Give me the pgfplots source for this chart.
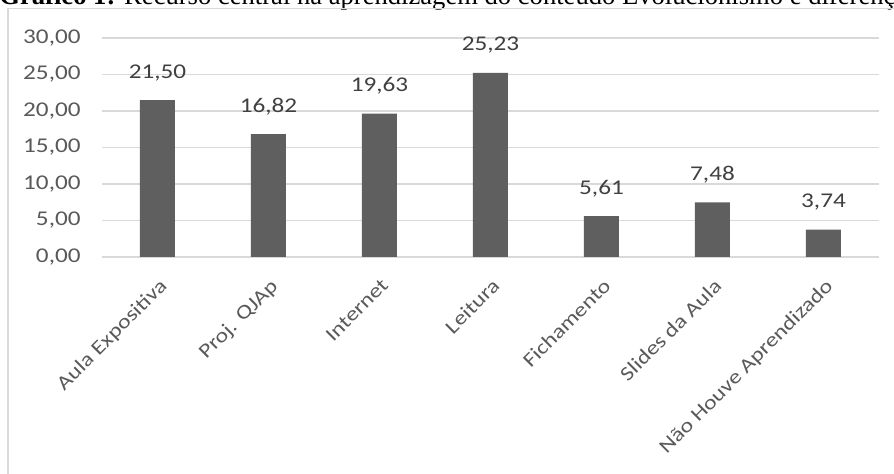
\documentclass[border=0pt]{standalone}
\usepackage{pgfplots}
\pgfplotsset{compat=1.18}
\usepackage{fontspec}
\setmainfont[FakeStretch=1.2]{Carlito}
\newfontfamily\titlefont{Liberation Serif}
\definecolor{barc}{HTML}{5F5F5F}
\definecolor{gridc}{HTML}{D9D9D9}
\definecolor{tickc}{HTML}{595959}
\definecolor{labc}{HTML}{404040}
\begin{document}
\begin{tikzpicture}
\begin{scope}
\clip (0,0) rectangle (447pt,237pt);
\node[anchor=base west, inner sep=0pt, font=\titlefont\fontsize{13.3}{15}\selectfont] at (-0.5pt,234.8pt) {\textbf{Gráfico 1:} Recurso central na aprendizagem do conteúdo Evolucionismo e diferenças};
\draw[gridc, line width=0.6pt] (4pt,-5pt) -- (4pt,232.8pt) -- (460pt,232.8pt);
\begin{axis}[
  at={(51pt,108.5pt)}, anchor=south west,
  scale only axis, width=388.5pt, height=109.5pt,
  xmin=-0.5, xmax=6.5, ymin=0, ymax=30,
  axis line style={draw=none},
  ytick={0,5,...,30},
  ymajorgrids, grid style={gridc, line width=0.6pt},
  xtick={0,...,6},
  xticklabels={Aula Expositiva,Proj. QJAp,Internet,Leitura,Fichamento,Slides da Aula,Não Houve Aprendizado},
  major tick length=0pt,
  x tick label style={xshift=0.3pt, yshift=-10pt, rotate=45, anchor=north east, font=\fontsize{10}{12}\selectfont, text=tickc, inner sep=0pt},
  y tick label style={font=\fontsize{10.5}{12}\selectfont, text=tickc, inner sep=0pt, xshift=-10.5pt},
  /pgf/number format/.cd, fixed, fixed zerofill, precision=2, use comma, assume math mode=true,
  /pgfplots/.cd,
  nodes near coords,
  every node near coord/.append style={font=\fontsize{10.5}{12}\selectfont, text=labc, inner sep=0pt, anchor=base, yshift=11pt},
  clip=false,
]
\draw[gridc, line width=0.6pt] (axis cs:-0.5,0) -- (axis cs:6.5,0);
\addplot[ybar, bar width=17.5pt, fill=barc, draw=none] coordinates {
(0,21.50) (1,16.82) (2,19.63) (3,25.23) (4,5.61) (5,7.48) (6,3.74)
};
\end{axis}
\end{scope}
\pgfresetboundingbox
\useasboundingbox (0,0) rectangle (447pt,237pt);
\end{tikzpicture}
\end{document}
